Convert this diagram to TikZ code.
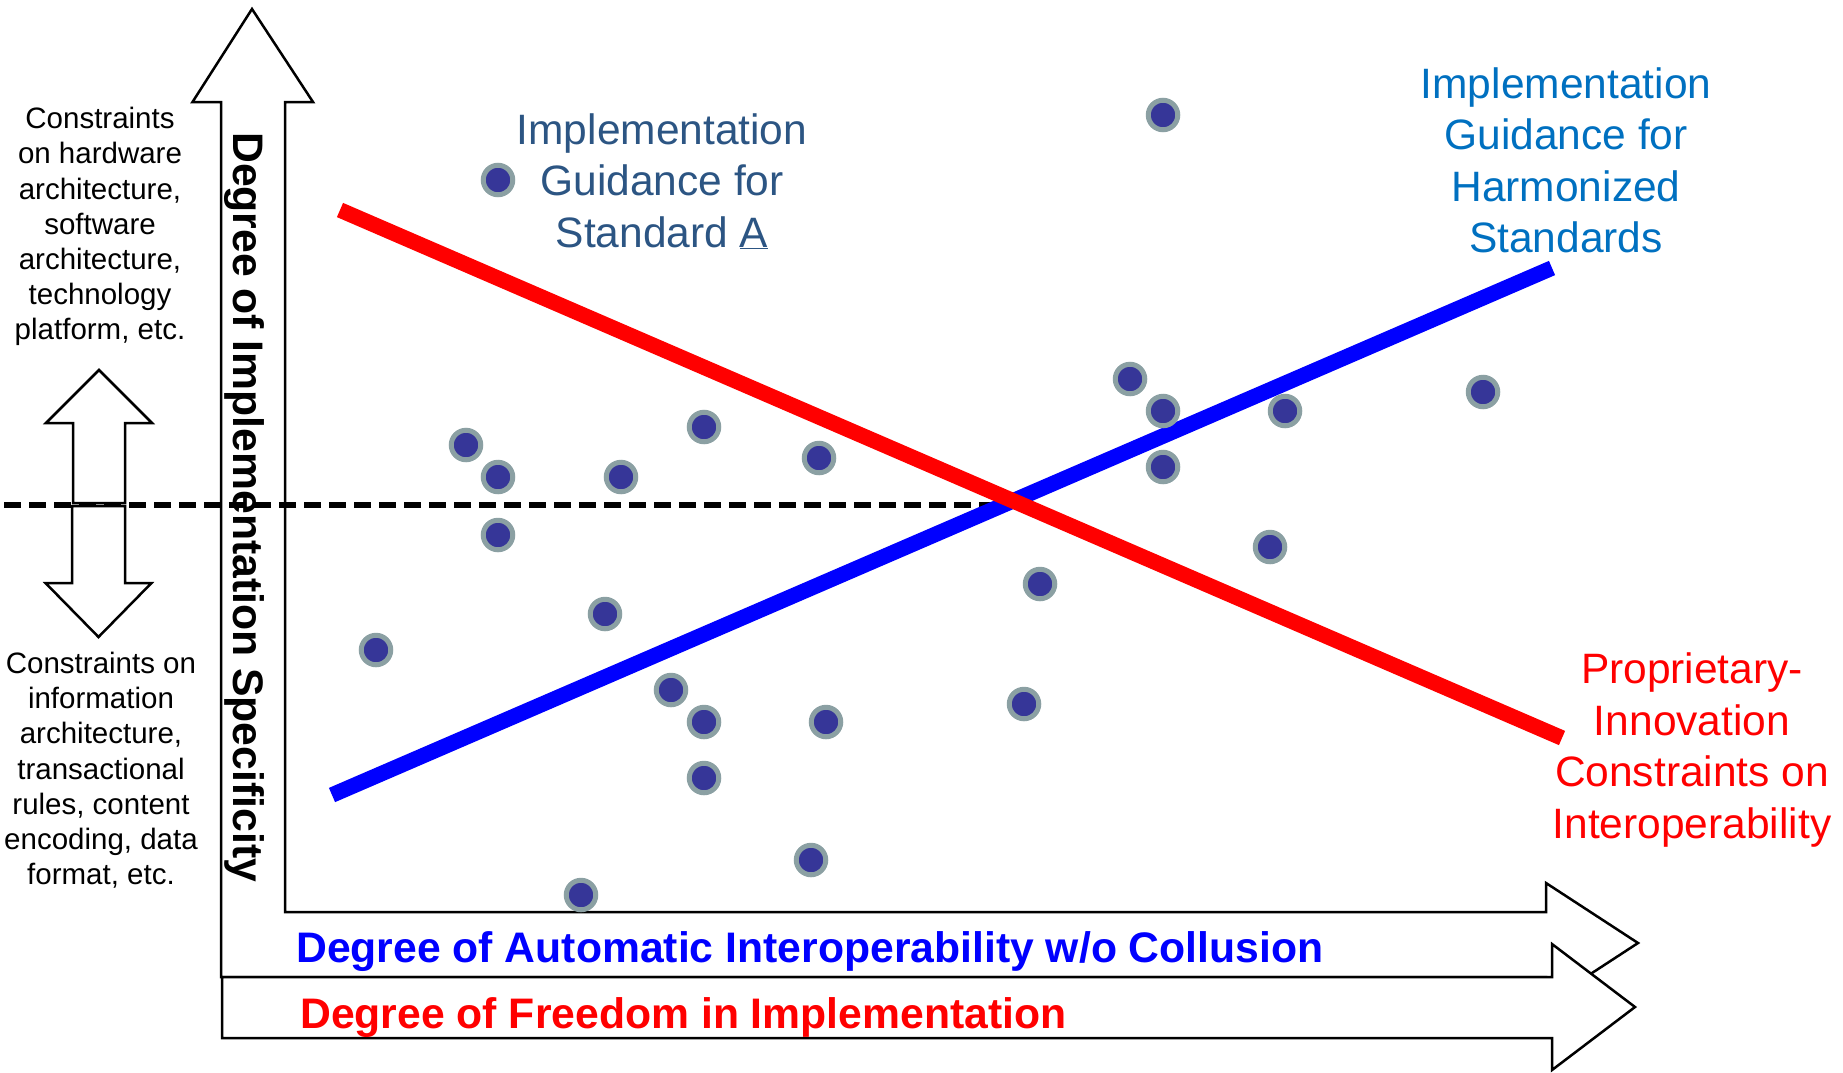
\documentclass[tikz,border=0pt]{standalone}
\usepackage{fontspec}
\setmainfont{Liberation Sans}
\usetikzlibrary{calc}

\definecolor{dotblue}{RGB}{54,54,152}
\definecolor{ringgray}{RGB}{139,160,163}
\definecolor{stdablue}{RGB}{44,85,131}
\definecolor{harmblue}{RGB}{0,112,192}
\definecolor{axisblue}{RGB}{0,0,255}

\tikzset{
  sampledot/.style={circle,draw=ringgray,fill=dotblue,line width=5pt,minimum size=29.5pt,inner sep=0pt},
  arrowshape/.style={draw=black,fill=white,line width=2.5pt},
  bigtext/.style={font=\fontsize{42.7}{51}\selectfont\bfseries,inner sep=0pt},
  notetext/.style={font=\fontsize{42.5}{51.5}\selectfont,align=center,inner sep=0pt,anchor=north},
  sidetext/.style={font=\fontsize{29.5}{35.2}\selectfont,align=center,inner sep=0pt,anchor=north},
  trendline/.style={line width=15.5pt},
}

\begin{document}
\begin{tikzpicture}[x=1pt,y=-1pt]
\useasboundingbox (0,0) rectangle (1843,1072);

% big bent arrow (specificity / interoperability)
\coordinate (vtip) at (252,9);
\coordinate (vhl) at (192.5,102);
\coordinate (vhr) at (313,102);
\coordinate (vsl) at (221,102);
\coordinate (vsr) at (285,102);
\coordinate (icorner) at (285,912);
\coordinate (ocorner) at (221,977);
\coordinate (hat) at (1546,912);
\coordinate (hab) at (1546,977);
\coordinate (hht) at (1546,883);
\coordinate (hhb) at (1546,1003);
\coordinate (htip) at (1638,943);
% freedom arrow
\coordinate (ftl) at (222,977);
\coordinate (fbl) at (222,1038);
\coordinate (fat) at (1552,977);
\coordinate (fab) at (1552,1038);
\coordinate (fht) at (1552,944);
\coordinate (fhb) at (1552,1070);
\coordinate (ftip) at (1635,1007);
% dashed level
\coordinate (dashl) at (4,505);
\coordinate (cross) at (1011,505);
% trend lines
\coordinate (r1) at (340,210);
\coordinate (r2) at (1562,738);
\coordinate (b1) at (332,795);
\coordinate (b2) at (1552,268);

\newcommand{\putdot}[3]{
    \node[sampledot] (#1) at (#2,#3) {};
}

\newcommand{\drawbigarrows}{
    \draw[arrowshape] (icorner)--(hat)--(hht)--(htip)--(hhb)--(hab)--(ocorner)--(vsl)--(vhl)--(vtip)--(vhr)--(vsr)--cycle;
    \draw[arrowshape] (ftl)--(fat)--(fht)--(ftip)--(fhb)--(fab)--(fbl)--cycle;
}

\newcommand{\drawsidearrows}{
    \draw[arrowshape] (73,503)--(73,423)--(46,423)--(99,370)--(152,423)--(125,423)--(125,503)--cycle;
    \draw[arrowshape] (72,506)--(72,583)--(45.5,583)--(98.5,637)--(151.5,583)--(125,583)--(125,506)--cycle;
}

\newcommand{\drawdots}{
    \putdot{d1}{498}{180}
    \putdot{d2}{1163}{115}
    \putdot{d3}{466}{445}
    \putdot{d4}{498}{477}
    \putdot{d5}{621}{477}
    \putdot{d6}{704}{427}
    \putdot{d7}{819}{458}
    \putdot{d8}{498}{535}
    \putdot{d9}{376}{650}
    \putdot{d10}{605}{614}
    \putdot{d11}{671}{690}
    \putdot{d12}{704}{722}
    \putdot{d13}{704}{778}
    \putdot{d14}{826}{722}
    \putdot{d15}{811}{860}
    \putdot{d16}{581}{895}
    \putdot{d17}{1024}{704}
    \putdot{d18}{1040}{584}
    \putdot{d19}{1270}{547}
    \putdot{d20}{1130}{379}
    \putdot{d21}{1163}{411}
    \putdot{d22}{1163}{467}
    \putdot{d23}{1285}{411}
    \putdot{d24}{1483}{392}
}

\drawbigarrows
\node[bigtext,rotate=-90,anchor=base west] (yaxis) at (233.5,132) {Degree of Implementation Specificity};
\node[bigtext,anchor=base west,text=axisblue] (xauto) at (296,962) {Degree of Automatic Interoperability w/o Collusion};
\node[bigtext,anchor=base west,text=red] (xfree) at (300,1028) {Degree of Freedom in Implementation};

\draw[line width=5.5pt,dash pattern=on 17pt off 8pt] (dashl)--(cross);
\drawsidearrows

\node[sidetext] (hwnote) at (100,107.2) {Constraints\\on hardware\\architecture,\\software\\architecture,\\technology\\platform, etc.};
\node[sidetext] (infonote) at (101,652) {Constraints on\\information\\architecture,\\transactional\\rules, content\\encoding, data\\format, etc.};

\draw[trendline,axisblue] (b1)--(b2);
\draw[trendline,red] (r1)--(r2);

\node[notetext,text=stdablue] (stda) at (662,113) {Implementation\\Guidance for\\Standard \underline{A}};
\node[notetext,text=harmblue] (harm) at (1566,67.3) {Implementation\\Guidance for\\Harmonized\\Standards};
\node[notetext,text=red] (propr) at (1692,652.5) {Proprietary-\\Innovation\\Constraints on\\Interoperability};

\drawdots
\end{tikzpicture}
\end{document}
